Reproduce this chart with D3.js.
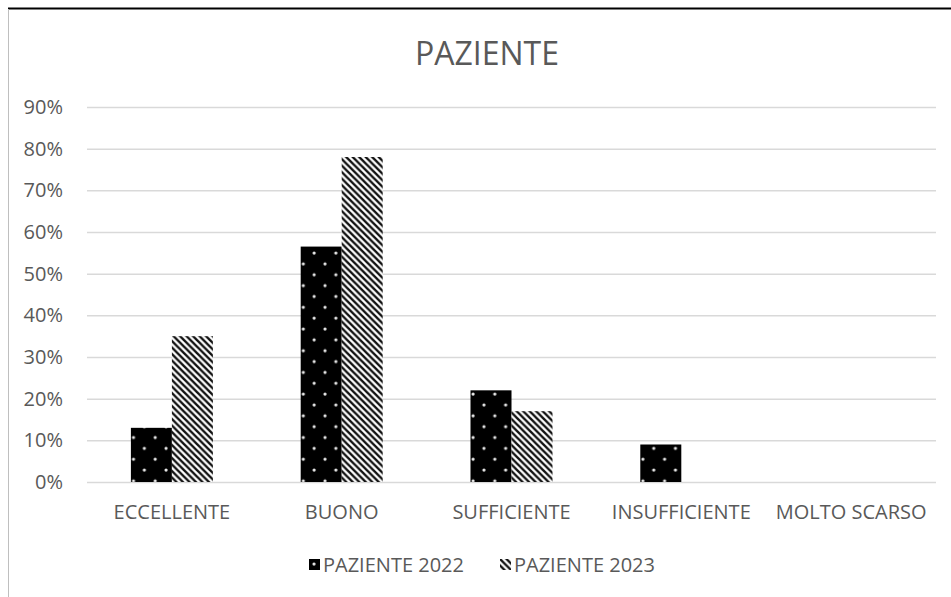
<html>
<head>
  <meta charset="utf-8">
  <script src="https://d3js.org/d3.v7.min.js"></script>
  <style>
    body { margin: 0; background: #fff; }
    text { font-family: "Open Sans", sans-serif; fill: #595959; }
    .grid line { stroke: #d9d9d9; stroke-width: 1.5; }
    .domain { display: none; }
  </style>
</head>
<body>
<svg id="chart" width="951" height="597"></svg>
<script>
var categories = ["ECCELLENTE", "BUONO", "SUFFICIENTE", "INSUFFICIENTE", "MOLTO SCARSO"];
var series = ["PAZIENTE 2022", "PAZIENTE 2023"];
var values2022 = [0.13, 0.565, 0.22, 0.09, 0];
var values2023 = [0.35, 0.78, 0.17, 0, 0];
var yTicks = [0, 0.1, 0.2, 0.3, 0.4, 0.5, 0.6, 0.7, 0.8, 0.9];

var margin = { top: 107, right: 15, bottom: 115, left: 87 };
var W = 951, H = 597;
var width = W - margin.left - margin.right,
    height = H - margin.top - margin.bottom;

var svg = d3.select("#chart");

// patterns
var defs = svg.append("defs");
var dots = defs.append("pattern")
  .attr("id", "dots")
  .attr("patternUnits", "userSpaceOnUse")
  .attr("width", 21.7).attr("height", 21.7);
dots.append("rect").attr("width", 21.7).attr("height", 21.7).attr("fill", "#000");
dots.append("circle").attr("cx", 5).attr("cy", 5).attr("r", 1.6).attr("fill", "#e8e8e8");
dots.append("circle").attr("cx", 15.85).attr("cy", 15.85).attr("r", 1.6).attr("fill", "#e8e8e8");

var hatch = defs.append("pattern")
  .attr("id", "hatch")
  .attr("patternUnits", "userSpaceOnUse")
  .attr("width", 6.5).attr("height", 6.5);
hatch.append("rect").attr("width", 6.5).attr("height", 6.5).attr("fill", "#fff");
hatch.append("path").attr("d", "M-1,-1 L7.5,7.5 M-4,2.5 L2.5,9 M4,-2.5 L9,2.5")
  .attr("stroke", "#111").attr("stroke-width", 2.4);

var fills = ["url(#dots)", "url(#hatch)"];

// chart frame
svg.append("line").attr("x1", 8).attr("x2", W).attr("y1", 8.5).attr("y2", 8.5)
  .attr("stroke", "#000").attr("stroke-width", 2);
svg.append("line").attr("x1", 8.5).attr("x2", 8.5).attr("y1", 9).attr("y2", H)
  .attr("stroke", "#bfbfbf").attr("stroke-width", 1);

var g = svg.append("g").attr("transform", "translate(" + margin.left + "," + margin.top + ")");

var x = d3.scaleBand().domain(categories).range([0, width]);
var y = d3.scaleLinear().domain([0, 0.9]).range([height, 0]);
var barW = 41;

// gridlines
g.append("g").attr("class", "grid")
  .call(d3.axisLeft(y).tickValues(yTicks).tickSize(-width).tickFormat(""))
  .call(function(s) { s.selectAll("text").remove(); });

// y labels
g.append("g")
  .call(d3.axisLeft(y).tickValues(yTicks).tickSize(0).tickPadding(24).tickFormat(d3.format(".0%")))
  .call(function(s) {
    s.select(".domain").remove();
    s.selectAll("text").style("font-size", "20px").attr("fill", "#595959")
      .style("font-family", "'Open Sans', sans-serif");
  });

// bars
var data = categories.map(function(c, i) { return { cat: c, v: [values2022[i], values2023[i]] }; });
var groups = g.selectAll(".grp").data(data).enter().append("g")
  .attr("transform", function(d) { return "translate(" + (x(d.cat) + x.bandwidth() / 2) + ",0)"; });
groups.selectAll("rect").data(function(d) { return d.v; }).enter().append("rect")
  .attr("x", function(d, i) { return i === 0 ? -barW : 0; })
  .attr("y", function(d) { return y(d); })
  .attr("width", barW)
  .attr("height", function(d) { return height - y(d); })
  .attr("fill", function(d, i) { return fills[i]; });

// x labels
g.append("g").attr("transform", "translate(0," + height + ")")
  .call(d3.axisBottom(x).tickSize(0).tickPadding(23))
  .call(function(s) {
    s.select(".domain").remove();
    s.selectAll("text").style("font-size", "20px").attr("fill", "#595959")
      .style("font-family", "'Open Sans', sans-serif");
  });

// title
svg.append("text").attr("x", 487).attr("y", 65).attr("text-anchor", "middle")
  .style("font-size", "32px").text("PAZIENTE");

// legend
var legX = [309, 500];
var leg = svg.selectAll(".leg").data(series).enter().append("g")
  .attr("transform", function(d, i) { return "translate(" + legX[i] + ",559)"; });
leg.append("rect").attr("width", 11).attr("height", 11)
  .attr("fill", function(d, i) { return fills[i]; });
leg.append("text").attr("x", 14).attr("y", 13).style("font-size", "20px").text(function(d) { return d; });
</script>
</body>
</html>
